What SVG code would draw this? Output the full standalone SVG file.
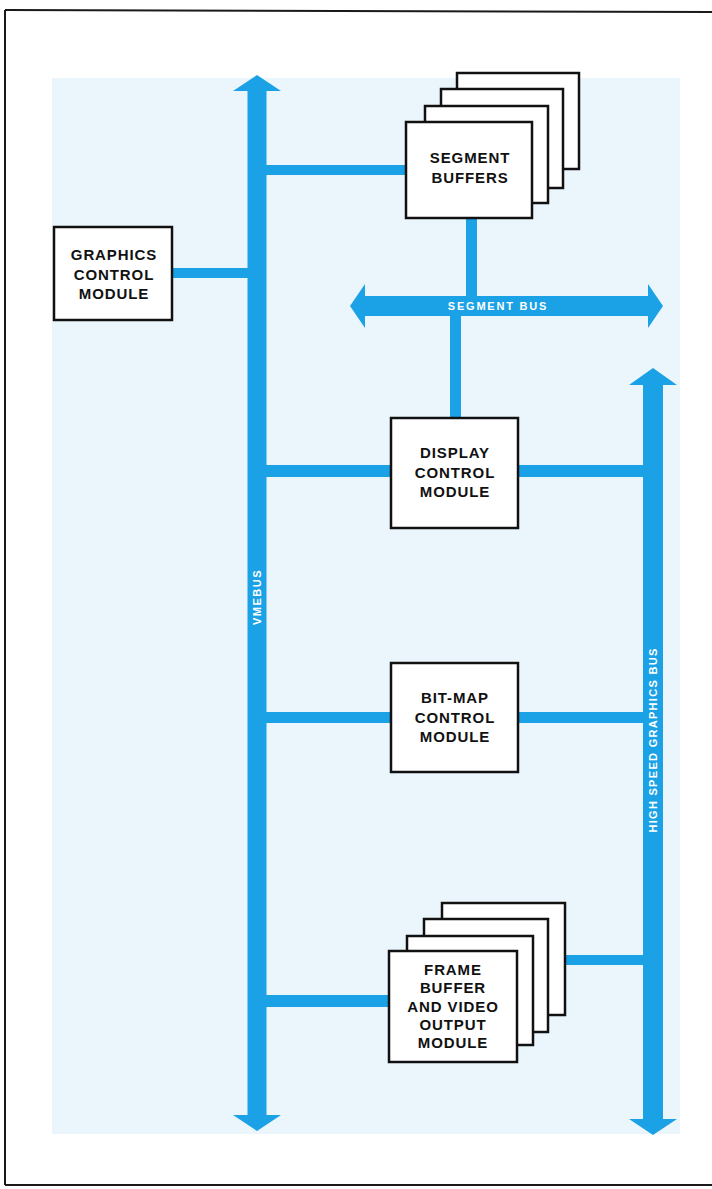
<svg xmlns="http://www.w3.org/2000/svg" width="712" height="1189" viewBox="0 0 712 1189">
<style>
.bus{fill:#1ba1e6}
.box{fill:#ffffff;stroke:#111111;stroke-width:2.5}
.lbl{font-family:"Liberation Sans",Arial,sans-serif;font-weight:bold;font-size:15px;letter-spacing:0.9px;fill:#111111;text-anchor:middle}
.blbl{font-family:"Liberation Sans",Arial,sans-serif;font-weight:bold;font-size:11px;fill:#ffffff;text-anchor:middle}
</style>
<rect x="0" y="0" width="712" height="1189" fill="#ffffff"/>
<rect x="52" y="78" width="628" height="1056" fill="#eaf6fc"/>
<g id="frame" fill="none" stroke="#1a1a1a" stroke-width="2">
<path d="M5,10 L712,12"/>
<path d="M5,10 L5,1185"/>
<path d="M5,1185 L712,1185"/>
</g>
<g id="connectors" class="bus">
<rect x="172" y="268" width="78" height="10"/>
<rect x="264" y="165" width="143" height="10"/>
<rect x="466" y="217" width="11" height="82"/>
<rect x="450" y="314" width="11" height="105"/>
<rect x="264" y="465" width="128" height="12"/>
<rect x="517" y="465" width="128" height="12"/>
<rect x="264" y="712" width="128" height="11"/>
<rect x="517" y="712" width="128" height="11"/>
<rect x="264" y="995" width="126" height="12"/>
<rect x="564" y="955" width="81" height="10"/>
</g>
<g id="vmebus">
<path class="bus" d="M257,75 L281,91 L266.5,91 L266.5,1115 L281,1115 L257,1131 L233,1115 L247.5,1115 L247.5,91 L233,91 Z"/>
<text class="blbl" transform="translate(261,597) rotate(-90)" letter-spacing="1.5">VMEBUS</text>
</g>
<g id="segment-bus">
<path class="bus" d="M350,306 L365,284 L365,296 L648,296 L648,284 L663,306 L648,328 L648,316 L365,316 L365,328 Z"/>
<text class="blbl" x="498" y="310" letter-spacing="1.8">SEGMENT BUS</text>
</g>
<g id="high-speed-graphics-bus">
<path class="bus" d="M653,368 L677,385 L663,385 L663,1119 L677,1119 L653,1135 L629,1119 L643,1119 L643,385 L629,385 Z"/>
<text class="blbl" transform="translate(657,740) rotate(-90)" letter-spacing="1.3">HIGH SPEED GRAPHICS BUS</text>
</g>
<g id="graphics-control-module">
<rect class="box" x="54" y="227" width="118" height="93"/>
<text class="lbl" x="114" y="260">GRAPHICS</text>
<text class="lbl" x="114" y="280">CONTROL</text>
<text class="lbl" x="114" y="299">MODULE</text>
</g>
<g id="segment-buffers">
<rect class="box" x="457" y="73" width="122" height="96"/>
<rect class="box" x="441" y="89" width="122" height="99"/>
<rect class="box" x="425" y="106" width="123" height="97"/>
<rect class="box" x="406" y="122" width="126" height="96"/>
<text class="lbl" x="470" y="163">SEGMENT</text>
<text class="lbl" x="470" y="183">BUFFERS</text>
</g>
<g id="display-control-module">
<rect class="box" x="391" y="418" width="127" height="110"/>
<text class="lbl" x="455" y="458">DISPLAY</text>
<text class="lbl" x="455" y="478">CONTROL</text>
<text class="lbl" x="455" y="497">MODULE</text>
</g>
<g id="bit-map-control-module">
<rect class="box" x="391" y="663" width="127" height="109"/>
<text class="lbl" x="455" y="703">BIT-MAP</text>
<text class="lbl" x="455" y="723">CONTROL</text>
<text class="lbl" x="455" y="742">MODULE</text>
</g>
<g id="frame-buffer-and-video-output-module">
<rect class="box" x="442" y="903" width="123" height="112"/>
<rect class="box" x="424" y="919" width="124" height="113"/>
<rect class="box" x="407" y="936" width="126" height="109"/>
<rect class="box" x="389" y="951" width="128" height="111"/>
<text class="lbl" x="453" y="975">FRAME</text>
<text class="lbl" x="453" y="993">BUFFER</text>
<text class="lbl" x="453" y="1012">AND VIDEO</text>
<text class="lbl" x="453" y="1030">OUTPUT</text>
<text class="lbl" x="453" y="1048">MODULE</text>
</g>
</svg>
